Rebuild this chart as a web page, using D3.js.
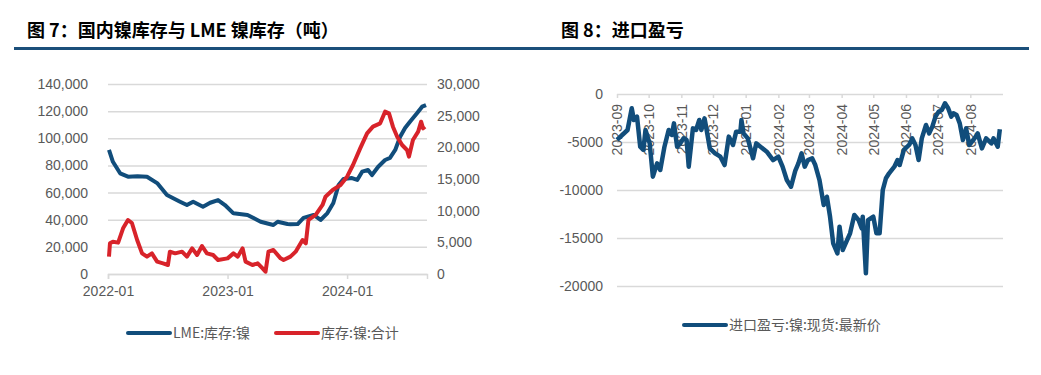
<!DOCTYPE html>
<html>
<head>
<meta charset="utf-8">
<script src="https://cdn.jsdelivr.net/npm/d3@7.9.0/dist/d3.min.js"></script>
<style>
  body { margin: 0; background: #fff; }
  svg { display: block; font-family: "Noto Sans CJK SC", "Noto Sans", sans-serif; }
  .tick text { fill: #595959; font-size: 14px; }
</style>
</head>
<body>
<svg id="chart" width="1041" height="375"></svg>
<script>
// ---------- data ----------
// LME nickel stocks (t), left axis
const lmeDates = ['2022-01-04','2022-01-16','2022-02-07','2022-03-03','2022-04-01','2022-04-30','2022-05-31','2022-06-30',
  '2022-08-09','2022-08-30','2022-09-18','2022-10-18','2022-11-09','2022-12-03','2022-12-24','2023-01-19','2023-03-03',
  '2023-04-12','2023-05-21','2023-06-03','2023-07-03','2023-07-12','2023-08-03','2023-08-21','2023-09-21','2023-10-12',
  '2023-11-02','2023-11-20','2023-12-06','2023-12-21','2024-01-16','2024-02-01','2024-02-16','2024-03-05','2024-03-17',
  '2024-04-05','2024-04-26','2024-05-11','2024-05-27','2024-06-11','2024-06-26','2024-07-11','2024-08-02','2024-08-17',
  '2024-08-29'];
const lmeValues = [91400,82700,74200,71700,72000,71700,67000,58200,53300,50800,53300,49600,52500,54500,50800,44700,43500,
  38500,36100,38500,36800,36600,36800,41300,43500,39800,44900,52300,65600,70000,70700,69300,75400,76600,72900,
  79000,84000,85500,91400,101200,107600,112200,118600,123300,124500];

// domestic nickel stocks total (t), right axis
const domDates = ['2022-01-04','2022-01-07','2022-01-16','2022-02-01','2022-02-16','2022-03-03','2022-03-15','2022-03-31',
  '2022-04-15','2022-04-30','2022-05-15','2022-05-31','2022-06-18','2022-07-03','2022-07-09','2022-07-25','2022-08-15',
  '2022-08-30','2022-09-15','2022-09-30','2022-10-15','2022-10-30','2022-11-18','2022-12-03','2023-01-01','2023-01-19',
  '2023-02-01','2023-02-16','2023-02-25','2023-03-18','2023-04-03','2023-04-18','2023-04-27','2023-05-06','2023-05-21',
  '2023-06-12','2023-06-21','2023-07-12','2023-07-28','2023-08-18','2023-08-28','2023-09-05','2023-09-27','2023-10-18',
  '2023-10-27','2023-11-18','2023-12-12','2024-01-01','2024-01-19','2024-02-10','2024-03-02','2024-03-20','2024-04-11',
  '2024-04-26','2024-05-08','2024-05-20','2024-06-02','2024-06-17','2024-07-02','2024-07-08','2024-07-20','2024-08-05',
  '2024-08-14','2024-08-20','2024-08-26'];
const domValues = [2730,4840,5100,4950,7210,8530,8050,5370,3260,2740,3260,1950,1680,1420,3530,3260,3530,2740,4050,3000,
  4420,3260,3000,2210,2470,3260,2740,4050,1950,1420,1680,890,370,3530,3790,2470,2210,2740,3530,5370,4840,8530,9320,
  10900,12200,13260,14050,15370,17210,19840,22210,23260,23790,25630,25370,23260,21680,20370,19580,18530,21160,22470,
  24050,23000,23260];

// import profit/loss, nickel spot (yuan/t)
const pnlDates = ['2023-09-01','2023-09-11','2023-09-15','2023-09-17','2023-09-20','2023-09-23','2023-09-26','2023-09-28',
  '2023-10-02','2023-10-05','2023-10-09','2023-10-12','2023-10-16','2023-10-20','2023-10-23','2023-10-25','2023-10-28',
  '2023-10-31','2023-11-03','2023-11-06','2023-11-08','2023-11-12','2023-11-15','2023-11-18','2023-11-20','2023-11-23',
  '2023-11-25','2023-11-28','2023-12-03','2023-12-08','2023-12-12','2023-12-16','2023-12-20','2023-12-23','2023-12-27',
  '2023-12-28','2023-12-30','2024-01-03','2024-01-08','2024-01-11','2024-01-21','2024-01-27','2024-02-01','2024-02-05',
  '2024-02-09','2024-02-13','2024-02-17','2024-02-20','2024-02-23','2024-02-26','2024-02-29','2024-03-04','2024-03-07',
  '2024-03-11','2024-03-15','2024-03-18','2024-03-21','2024-03-24','2024-03-28','2024-03-30','2024-04-02','2024-04-09',
  '2024-04-13','2024-04-17','2024-04-20','2024-04-21','2024-04-24','2024-04-26','2024-05-01','2024-05-04','2024-05-07',
  '2024-05-10','2024-05-13','2024-05-16','2024-05-21','2024-05-24','2024-05-26','2024-05-30','2024-06-04','2024-06-07',
  '2024-06-10','2024-06-13','2024-06-16','2024-06-20','2024-06-23','2024-06-26','2024-06-29','2024-07-02','2024-07-05',
  '2024-07-08','2024-07-11','2024-07-14','2024-07-16','2024-07-19','2024-07-22','2024-07-25','2024-07-28','2024-07-31',
  '2024-08-05','2024-08-08','2024-08-12','2024-08-16','2024-08-21','2024-08-23','2024-08-27','2024-08-29'];
const pnlValues = [-4790,-3750,-1490,-2710,-2360,-5490,-5830,-3750,-5140,-8610,-7220,-7920,-5490,-3750,-4270,-3060,-5490,
  -5140,-4620,-4790,-7570,-3580,-3750,-2710,-3750,-2540,-3750,-5660,-6180,-6530,-7400,-4440,-5310,-3920,-3920,-2710,
  -4100,-4620,-6700,-5140,-6010,-6880,-6530,-7570,-8960,-9660,-8000,-7220,-6180,-7570,-6880,-6700,-7400,-8960,-11560,
  -10700,-12780,-15550,-16600,-13820,-16250,-14510,-12600,-13130,-13990,-12780,-18680,-13130,-12780,-14510,-14510,
  -10000,-8780,-8260,-7570,-6880,-7400,-5830,-5310,-4620,-5310,-6880,-4620,-3230,-4100,-3400,-2360,-1840,-1670,-970,
  -1490,-2360,-2010,-2190,-3060,-4790,-3580,-5310,-4620,-4100,-5660,-4620,-5140,-4620,-5490,-3680];

const leftTicksX = ['2022-01-01', '2023-01-01', '2024-01-01'];
const rightTicksX = ['2023-09-01','2023-10-01','2023-11-01','2023-12-01','2024-01-01','2024-02-01','2024-03-01',
  '2024-04-01','2024-05-01','2024-06-01','2024-07-01','2024-08-01'];

const BLUE = '#114D7B';
const RED = '#D8232A';
const GRID = '#D9D9D9';
const TEXT = '#595959';

const parse = d3.timeParse('%Y-%m-%d');
const zip = (ds, vs) => ds.map((d, i) => ({ date: parse(d), value: vs[i] }));
const lme = zip(lmeDates, lmeValues);
const dom = zip(domDates, domValues);
const pnl = zip(pnlDates, pnlValues);

const svg = d3.select('#chart');

// ---------- titles ----------
svg.append('text').attr('x', 27).attr('y', 37)
  .attr('font-size', 18).attr('font-weight', 'bold').attr('fill', '#000')
  .text('图 7：国内镍库存与 LME 镍库存（吨）');
svg.append('text').attr('x', 561).attr('y', 37)
  .attr('font-size', 18).attr('font-weight', 'bold').attr('fill', '#000')
  .text('图 8：进口盈亏');
svg.append('rect').attr('x', 14).attr('y', 47).attr('width', 1015).attr('height', 3).attr('fill', '#1B4F7A');

// ---------- left chart ----------
const x1 = d3.scaleTime().domain([parse('2022-01-01'), parse('2024-09-01')]).range([108, 427]);
const yL = d3.scaleLinear().domain([0, 140000]).range([274, 84]);
const yR = d3.scaleLinear().domain([0, 30000]).range([274, 84]);

const g1 = svg.append('g');

g1.append('g')
  .attr('transform', 'translate(108,0)')
  .call(d3.axisLeft(yL).tickValues(d3.range(0, 140001, 20000)).tickSize(-(427 - 108)).tickPadding(20)
    .tickFormat(d3.format(',')))
  .call(g => g.select('.domain').remove())
  .call(g => g.selectAll('.tick line').attr('stroke', GRID).attr('stroke-width', 1.5));

g1.append('g')
  .attr('transform', 'translate(427,0)')
  .call(d3.axisRight(yR).tickValues(d3.range(0, 30001, 5000)).tickSize(0).tickPadding(10)
    .tickFormat(d3.format(',')))
  .call(g => g.select('.domain').remove());

g1.append('g')
  .attr('transform', 'translate(0,274)')
  .call(d3.axisBottom(x1).tickValues(leftTicksX.map(parse)).tickSize(5).tickPadding(7)
    .tickFormat(d3.timeFormat('%Y-%m')))
  .call(g => g.select('.domain').attr('stroke', GRID).attr('stroke-width', 1.5))
  .call(g => g.selectAll('.tick line').attr('stroke', GRID).attr('stroke-width', 1.5));

g1.append('path').datum(lme)
  .attr('fill', 'none').attr('stroke', BLUE).attr('stroke-width', 4).attr('stroke-linejoin', 'round')
  .attr('d', d3.line().x(d => x1(d.date)).y(d => yL(d.value)));

g1.append('path').datum(dom)
  .attr('fill', 'none').attr('stroke', RED).attr('stroke-width', 4).attr('stroke-linejoin', 'round')
  .attr('d', d3.line().x(d => x1(d.date)).y(d => yR(d.value)));

// legend left
const leg1 = [{ label: 'LME:库存:镍', color: BLUE, x: 128 }, { label: '库存:镍:合计', color: RED, x: 276 }];
leg1.forEach(l => {
  svg.append('line').attr('x1', l.x).attr('x2', l.x + 42).attr('y1', 333).attr('y2', 333)
    .attr('stroke', l.color).attr('stroke-width', 4).attr('stroke-linecap', 'round');
  svg.append('text').attr('x', l.x + 45).attr('y', 333).attr('dy', '0.35em')
    .attr('font-size', 14).attr('fill', TEXT).text(l.label);
});

// ---------- right chart ----------
const x2 = d3.scaleTime().domain([parse('2023-09-01'), parse('2024-09-01')]).range([617, 1003]);
const y2 = d3.scaleLinear().domain([-20000, 0]).range([286, 94]);

const g2 = svg.append('g');

g2.append('g')
  .attr('transform', 'translate(617,0)')
  .call(d3.axisLeft(y2).tickValues(d3.range(-20000, 1, 5000)).tickSize(-(1003 - 617)).tickPadding(14)
    .tickFormat(d => String(d)))
  .call(g => g.select('.domain').remove())
  .call(g => g.selectAll('.tick line').attr('stroke', GRID).attr('stroke-width', 1.5));

g2.append('g')
  .attr('transform', 'translate(0,94)')
  .call(d3.axisBottom(x2).tickValues(rightTicksX.map(parse)).tickSize(4)
    .tickFormat(d3.timeFormat('%Y-%m')))
  .call(g => g.select('.domain').remove())
  .call(g => g.selectAll('.tick line').attr('stroke', GRID).attr('stroke-width', 1.5))
  .call(g => g.selectAll('.tick text')
    .attr('transform', 'translate(0,10) rotate(-90)')
    .attr('text-anchor', 'end').attr('x', 0).attr('y', 0).attr('dy', '0.35em'));

g2.append('path').datum(pnl)
  .attr('fill', 'none').attr('stroke', BLUE).attr('stroke-width', 4.5).attr('stroke-linejoin', 'round')
  .attr('d', d3.line().x(d => x2(d.date)).y(d => y2(d.value)));

// legend right
svg.append('line').attr('x1', 684).attr('x2', 726).attr('y1', 325).attr('y2', 325)
  .attr('stroke', BLUE).attr('stroke-width', 4).attr('stroke-linecap', 'round');
svg.append('text').attr('x', 729).attr('y', 325).attr('dy', '0.35em')
  .attr('font-size', 14).attr('fill', TEXT).text('进口盈亏:镍:现货:最新价');
</script>
</body>
</html>
